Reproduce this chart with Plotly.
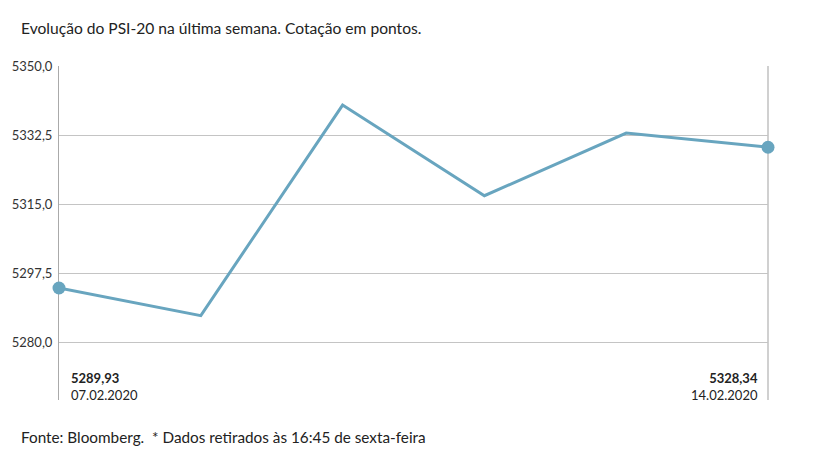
import plotly.graph_objects as go

dates = ["07.02.2020", "10.02.2020", "11.02.2020", "12.02.2020", "13.02.2020", "14.02.2020"]
values = [5293.7, 5286.7, 5340.1, 5317.1, 5333.0, 5329.4]
tick_vals = [5280.0, 5297.5, 5315.0, 5332.5, 5350.0]
tick_text = ["5280,0", "5297,5", "5315,0", "5332,5", "5350,0"]
first_label = "5289,93"
last_label = "5328,34"

FONT = "Lato"
LINE = "#68a5bf"

fig = go.Figure()
fig.add_trace(go.Scatter(
    x=list(range(len(dates))), y=values, mode="lines",
    line=dict(color=LINE, width=3), hoverinfo="skip", showlegend=False,
))
fig.add_trace(go.Scatter(
    x=[0, len(dates) - 1], y=[values[0], values[-1]], mode="markers",
    marker=dict(color=LINE, size=13), cliponaxis=False, hoverinfo="skip", showlegend=False,
))

fig.update_layout(
    width=817, height=460,
    margin=dict(l=59, r=49, t=66, b=60),
    paper_bgcolor="white", plot_bgcolor="white",
    font=dict(family=FONT, color="#222", size=13),
    xaxis=dict(range=[0, len(dates) - 1], showgrid=False, zeroline=False,
               showticklabels=False, ticks="", showline=False),
    yaxis=dict(range=[5265.3, 5350], tickvals=tick_vals, ticktext=tick_text,
               showgrid=True, gridcolor="#c4c4c4", gridwidth=1, zeroline=False,
               showline=True, linecolor="#aaaaaa", linewidth=1, layer="below traces",
               ticks="", ticklabelstandoff=3,
               tickfont=dict(family=FONT, size=13, color="#333")),
    shapes=[dict(type="line", xref="paper", yref="paper", x0=1, x1=1, y0=0, y1=1,
                 layer="below", line=dict(color="#d0d0d0", width=2))],
    annotations=[
        dict(text="Evolução do PSI-20 na última semana. Cotação em pontos.",
             xref="paper", yref="paper", x=-0.057, y=1.114, xanchor="left", yanchor="middle",
             showarrow=False, font=dict(size=15.6, color="#222", family=FONT)),
        dict(text="Fonte: Bloomberg.  * Dados retirados às 16:45 de sexta-feira",
             xref="paper", yref="paper", x=-0.057, y=-0.111, xanchor="left", yanchor="middle",
             showarrow=False, font=dict(size=15.3, color="#222", family=FONT)),
        dict(text="<b>" + first_label + "</b><br>" + dates[0], xref="x", yref="paper",
             x=0, xshift=10, y=0.039, xanchor="left", yanchor="middle", align="left",
             showarrow=False, font=dict(size=13, color="#222", family=FONT)),
        dict(text="<b>" + last_label + "</b><br>" + dates[-1], xref="x", yref="paper",
             x=len(dates) - 1, xshift=-8, y=0.039, xanchor="right", yanchor="middle", align="right",
             showarrow=False, font=dict(size=13, color="#222", family=FONT)),
    ],
)

fig.write_html("out.html", config={"displayModeBar": False},
               post_script="document.body.style.margin='0';")
